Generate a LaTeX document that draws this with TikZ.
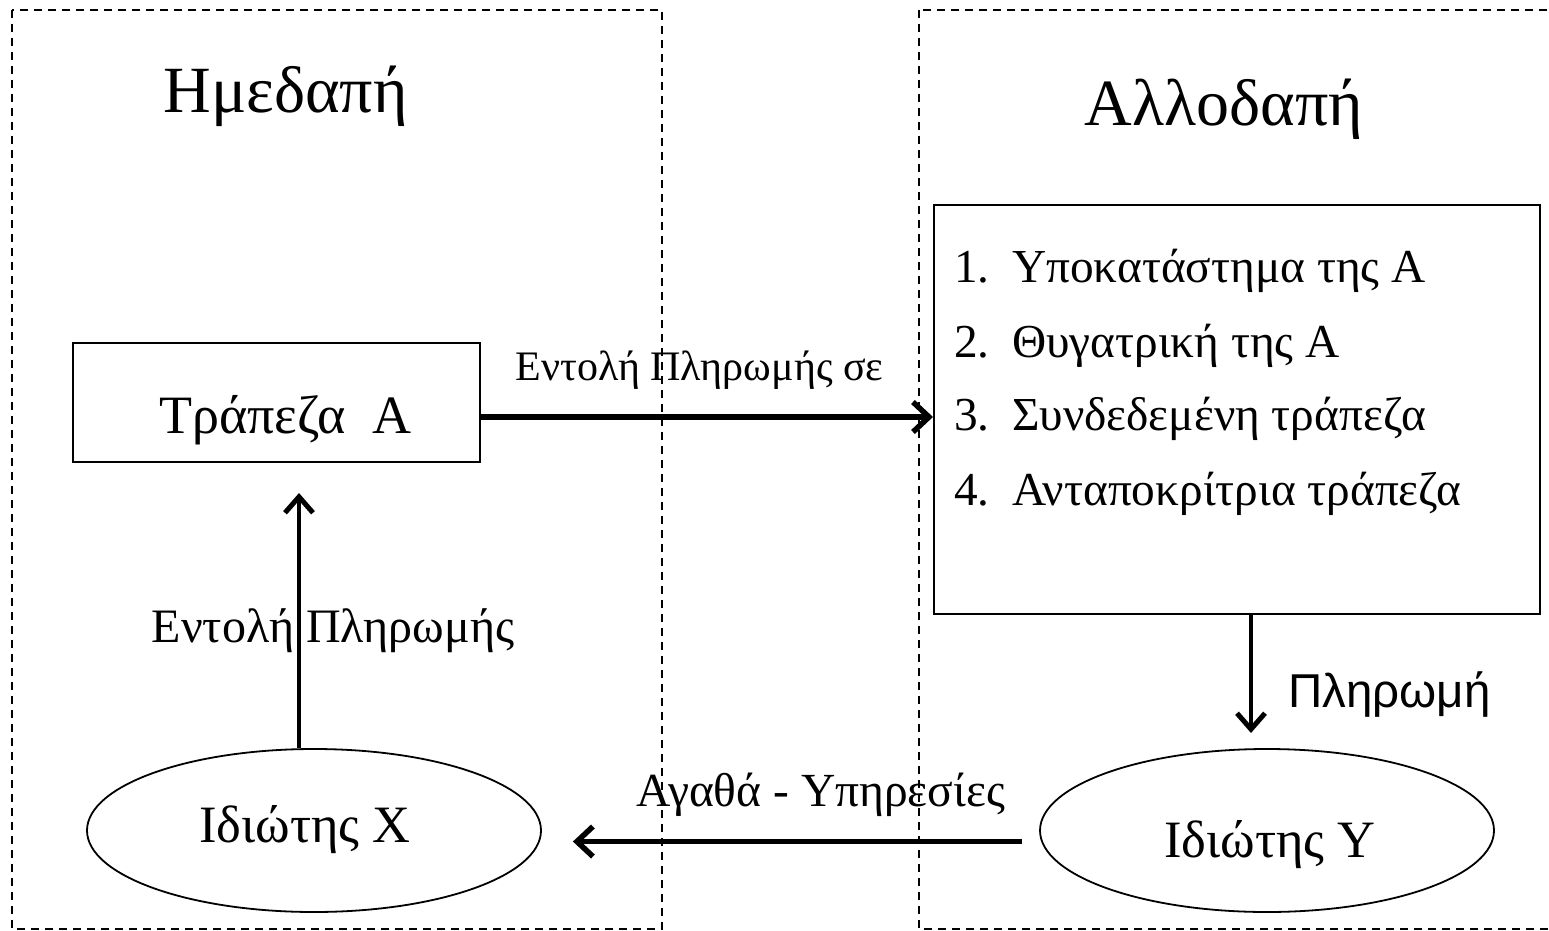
\documentclass[tikz,border=0pt]{standalone}
\usepackage{fontspec}
\setmainfont{Liberation Serif}
\newfontfamily\grsans{Liberation Sans}
\usetikzlibrary{arrows.meta,shapes.geometric}

\tikzset{
  region/.style={draw, dash pattern=on 8pt off 6pt, line width=1.5pt},
  bankbox/.style={draw, rectangle, line width=2pt, inner sep=0pt},
  person/.style={draw, ellipse, line width=1.8pt, inner sep=0pt,
    minimum width=454pt, minimum height=163pt, font=\fontsize{52.5}{58}\selectfont},
  flow/.style={line width=5.5pt, -{Straight Barb[length=16pt,width=30pt,line width=5.5pt]}},
  flowthin/.style={line width=4.5pt, -{Straight Barb[length=16pt,width=28pt,line width=5pt]}},
  title/.style={anchor=base, inner sep=0pt, font=\fontsize{66}{72}\selectfont},
  item/.style={anchor=base west, inner sep=0pt, font=\fontsize{47.3}{52}\selectfont},
  flowlabel/.style={anchor=base, inner sep=0pt},
}

\begin{document}
\begin{tikzpicture}[x=1pt,y=-1pt]
  \clip (0,0) rectangle (1549,931);
  % the two countries
  \draw[region] (12,10) rectangle (662,929);
  \draw[region] (919,10) rectangle (1560,929);
  \node[title] (home) at (285.5,113) {Ημεδαπή};
  \node[title] (abroad) at (1224,126) {Αλλοδαπή};

  % banks
  \node[bankbox, minimum width=407pt, minimum height=119pt,
    text height=90pt, text depth=29pt, font=\fontsize{54}{60}\selectfont]
    (bankA) at (276.5,402.5) {\hspace*{18pt}Τράπεζα\ \ A};
  \node[bankbox, minimum width=606pt, minimum height=409pt] (foreign) at (1237,409.5) {};
  \node[item] (f1) at (954,282) {\makebox[58pt][l]{1.}Υποκατάστημα της Α};
  \node[item] (f2) at (954,357) {\makebox[58pt][l]{2.}Θυγατρική της Α};
  \node[item] (f3) at (954,430) {\makebox[58pt][l]{3.}Συνδεδεμένη τράπεζα};
  \node[item] (f4) at (954,505) {\makebox[58pt][l]{4.}Ανταποκρίτρια τράπεζα};

  % persons
  \node[person, text height=40pt, text depth=17pt] (px) at (314,830.5) {Ιδιώτης X\hspace*{18pt}};
  \node[person, text height=53pt, text depth=0pt] (py) at (1267,830.5) {\hspace*{6pt}Ιδιώτης Y};

  % flows
  \coordinate (upTip) at (299,493);
  \coordinate (payTip) at (1251,733);
  \draw[flow] ([yshift=-14.5pt]bankA.east) -- ([yshift=-14.5pt]bankA.east -| foreign.west);
  \draw[flowthin] (px.north -| upTip) -- (upTip);
  \draw[flowthin] (foreign.south -| payTip) -- (payTip);
  \draw[flow] ([xshift=-17pt,yshift=-11pt]py.west) -- ([xshift=31pt,yshift=-11pt]px.east);

  \node[flowlabel, font=\fontsize{42}{46}\selectfont] (lbOrderTo) at (699.5,380) {Εντολή Πληρωμής σε};
  \node[flowlabel, font=\fontsize{48}{54}\selectfont] (lbOrder) at (333,642) {Εντολή Πληρωμής};
  \node[flowlabel, font=\fontsize{47.5}{52}\selectfont] (lbGoods) at (821,806) {Αγαθά - Υπηρεσίες};
  \node[flowlabel, anchor=base west, font=\grsans\fontsize{47.5}{52}\selectfont] (lbPay) at (1288,707) {Πληρωμή};
\end{tikzpicture}
\end{document}
